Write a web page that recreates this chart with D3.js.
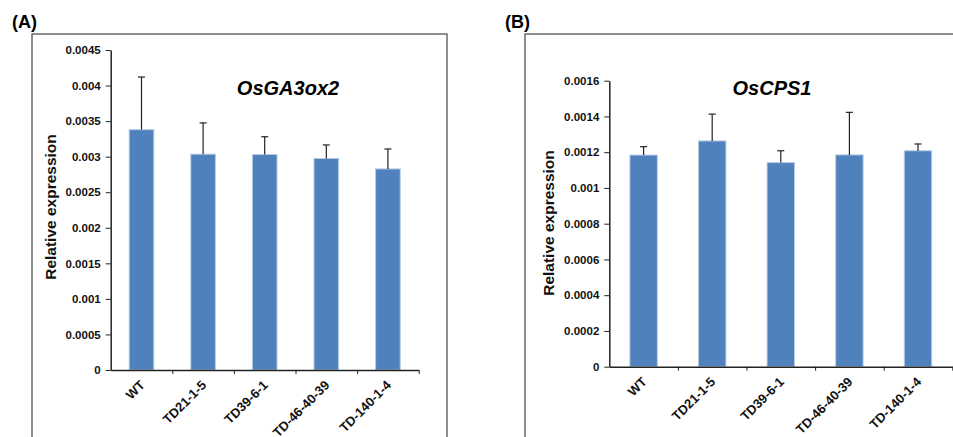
<!DOCTYPE html>
<html>
<head>
<meta charset="utf-8">
<script src="https://cdn.jsdelivr.net/npm/d3@7"></script>
<style>
  body { margin: 0; background: #fff; }
  svg { display: block; font-family: Arial, "Liberation Sans", sans-serif; }
  .tick text { font-weight: bold; font-size: 11.5px; fill: #111; }
  .domain, .tick line { stroke: #222; }
</style>
</head>
<body>
<svg id="chart" width="953" height="437"></svg>
<script>
// Sample lines, shared by both panels
var lines = ['WT', 'TD21-1-5', 'TD39-6-1', 'TD-46-40-39', 'TD-140-1-4'];

// (A) OsGA3ox2
var ga3oxMean = [0.00338, 0.003035, 0.00303, 0.002975, 0.002828];
var ga3oxErr = [0.00074, 0.00044, 0.00025, 0.00019, 0.00028];
var ga3oxTicks = [0, 0.0005, 0.001, 0.0015, 0.002, 0.0025, 0.003, 0.0035, 0.004, 0.0045];

// (B) OsCPS1
var cpsMean = [0.001184, 0.001263, 0.001142, 0.001185, 0.001208];
var cpsErr = [0.000047, 0.00015, 0.000066, 0.000238, 0.000038];
var cpsTicks = [0, 0.0002, 0.0004, 0.0006, 0.0008, 0.001, 0.0012, 0.0014, 0.0016];

var svg = d3.select('#chart');

function drawPanel(cfg) {
  var g = svg.append('g');

  // outer frame
  g.append('rect')
    .attr('x', cfg.frame[0]).attr('y', cfg.frame[1])
    .attr('width', cfg.frame[2]).attr('height', cfg.frame[3])
    .attr('fill', 'none').attr('stroke', '#444').attr('stroke-width', 1.2);

  g.append('text')
    .attr('x', cfg.frame[0] - 20).attr('y', 28)
    .attr('font-size', 18).attr('font-weight', 'bold')
    .text(cfg.letter);

  var x = d3.scaleBand().domain(lines).range([cfg.left, cfg.right]).paddingInner(0.6).paddingOuter(0.3);
  var xb = d3.scaleBand().domain(lines).range([cfg.left, cfg.right]);
  var y = d3.scaleLinear().domain([0, cfg.max]).range([cfg.bottom, cfg.top]);

  // bars
  g.selectAll('rect.bar').data(cfg.mean).enter().append('rect')
    .attr('class', 'bar')
    .attr('x', function(d, i) { return x(lines[i]); })
    .attr('width', x.bandwidth())
    .attr('y', function(d) { return y(d); })
    .attr('height', function(d) { return cfg.bottom - y(d); })
    .attr('fill', '#4f81bd')
    .attr('stroke', '#b8cce4').attr('stroke-width', 1);

  // error bars (upper only)
  var err = g.selectAll('g.err').data(cfg.mean).enter().append('g').attr('class', 'err');
  err.append('line')
    .attr('x1', function(d, i) { return xb(lines[i]) + xb.bandwidth() / 2; })
    .attr('x2', function(d, i) { return xb(lines[i]) + xb.bandwidth() / 2; })
    .attr('y1', function(d) { return y(d); })
    .attr('y2', function(d, i) { return y(d + cfg.err[i]); })
    .attr('stroke', '#222').attr('stroke-width', 1.2);
  err.append('line')
    .attr('x1', function(d, i) { return xb(lines[i]) + xb.bandwidth() / 2 - 3.5; })
    .attr('x2', function(d, i) { return xb(lines[i]) + xb.bandwidth() / 2 + 3.5; })
    .attr('y1', function(d, i) { return y(d + cfg.err[i]); })
    .attr('y2', function(d, i) { return y(d + cfg.err[i]); })
    .attr('stroke', '#222').attr('stroke-width', 1.2);

  // y axis
  var yAxis = d3.axisLeft(y).tickValues(cfg.ticks).tickFormat(function(d) { return String(+d.toFixed(5)); })
    .tickSizeInner(5).tickSizeOuter(0).tickPadding(5);
  g.append('g')
    .attr('transform', 'translate(' + cfg.left + ',0)')
    .call(yAxis)
    .call(function(a) { a.select('.domain').attr('stroke-width', 1.5); });

  // x axis: ticks at band boundaries, labels rotated
  var bounds = lines.map(function(c) { return xb(c); }).slice(1).concat([cfg.right]);
  var bScale = d3.scaleLinear().domain([cfg.left, cfg.right]).range([cfg.left, cfg.right]);
  g.append('g')
    .attr('transform', 'translate(0,' + cfg.bottom + ')')
    .call(d3.axisBottom(bScale).tickValues(bounds).tickFormat('').tickSizeInner(4).tickSizeOuter(0))
    .call(function(a) { a.select('.domain').attr('stroke-width', 1.5); });

  g.selectAll('text.xlab').data(lines).enter().append('text')
    .attr('class', 'xlab')
    .attr('text-anchor', 'end')
    .attr('font-size', 13).attr('font-weight', 'bold').attr('fill', '#111')
    .attr('transform', function(d) {
      return 'translate(' + (xb(d) + xb.bandwidth() / 2 + 4) + ',' + (cfg.bottom + 16) + ') rotate(-45)';
    })
    .text(function(d) { return d; });

  // y label
  g.append('text')
    .attr('transform', 'translate(' + cfg.ylabX + ',' + cfg.ylabY + ') rotate(-90)')
    .attr('text-anchor', 'middle')
    .attr('font-size', 15.5).attr('font-weight', 'bold').attr('fill', '#111')
    .text('Relative expression');

  // gene title
  g.append('text')
    .attr('x', cfg.titleX).attr('y', cfg.titleY)
    .attr('text-anchor', 'middle')
    .attr('font-size', 20).attr('font-weight', 'bold').attr('font-style', 'italic')
    .text(cfg.title);
}

drawPanel({
  letter: '(A)', title: 'OsGA3ox2',
  frame: [32, 34, 415, 420],
  left: 110.7, right: 418.7, top: 50, bottom: 370,
  max: 0.0045, ticks: ga3oxTicks, mean: ga3oxMean, err: ga3oxErr,
  ylabX: 56, ylabY: 207, titleX: 288, titleY: 95
});

drawPanel({
  letter: '(B)', title: 'OsCPS1',
  frame: [525, 34, 450, 420],
  left: 609.3, right: 952.3, top: 80.7, bottom: 366.7,
  max: 0.0016, ticks: cpsTicks, mean: cpsMean, err: cpsErr,
  ylabX: 554, ylabY: 223, titleX: 772, titleY: 95
});
</script>
</body>
</html>
